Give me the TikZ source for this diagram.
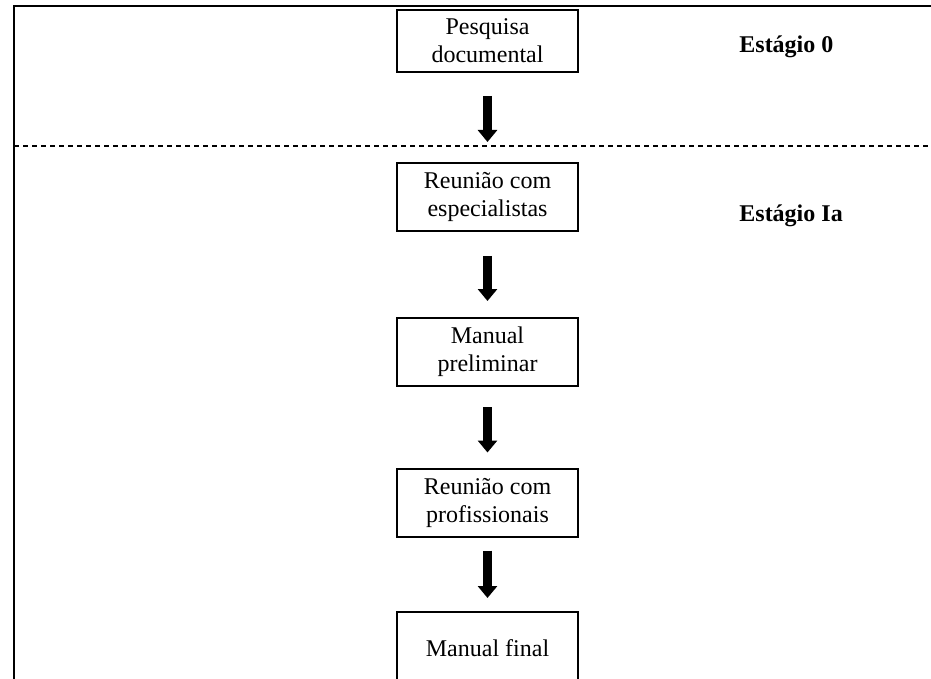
\documentclass[tikz,border=0pt]{standalone}
\usepackage{fontspec}
\setmainfont{Liberation Serif}
\usetikzlibrary{arrows.meta, positioning}

\begin{document}
\begin{tikzpicture}[x=0.5pt, y=-0.5pt,
  caixa/.style={draw, line width=1pt, minimum width=90.5pt, minimum height=34pt,
    align=center, font=\fontsize{12}{14}\selectfont},
  seta/.style={line width=4.5pt, -{Triangle[width=9.5pt, length=6pt]}},
  estagio/.style={anchor=base west, inner sep=0pt, font=\fontsize{12}{14}\selectfont\bfseries}]
  \def\xc{487.5}   % centro das caixas
  \def\xe{739}     % inicio dos rotulos de estagio

  \useasboundingbox (0,0) rectangle (931,679);
  \clip (0,0) rectangle (931,679);

  % moldura
  \draw[line width=1pt] (14,679) -- (14,6.5) -- (931,6.5);

  % separacao dos estagios
  \draw[dashed, dash pattern=on 2.5pt off 2pt, line width=0.7pt] (14,146) -- (931,146);

  % caixas
  \node[caixa, minimum height=31pt] (pesq) at (\xc,41) {Pesquisa\\documental};
  \node[caixa] (esp) at (\xc,197) {Reunião com\\especialistas};
  \node[caixa] (prel) at (\xc,352) {Manual\\preliminar};
  \node[caixa] (prof) at (\xc,502.5) {Reunião com\\profissionais};
  \node[caixa, anchor=north, minimum height=56pt, text depth=20pt] (final) at (\xc,611) {Manual final}; % cortada embaixo

  % estagios
  \node[estagio] (est0) at (\xe,53) {Estágio 0};
  \node[estagio] (est1) at (\xe,222) {Estágio Ia};

  % setas
  \foreach \a/\b/\s/\e in {pesq/esp/11.5/10, esp/prel/12/8, prel/prof/10/7.5, prof/final/6.5/6.5}
    \draw[seta, shorten <=\s pt, shorten >=\e pt] (\a) -- (\b);
\end{tikzpicture}
\end{document}
